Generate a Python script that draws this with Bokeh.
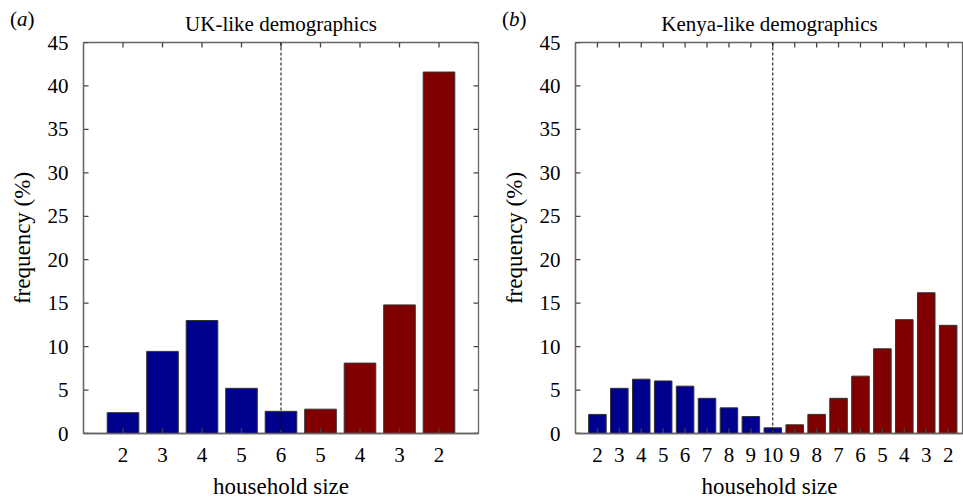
import math
from bokeh.plotting import figure
from bokeh.layouts import row
from bokeh.models import FixedTicker, Span, ColumnDataSource, Div
from bokeh.embed import file_html
from bokeh.resources import INLINE

# ---- data ----
uk_labels = ["2", "3", "4", "5", "6", "5", "4", "3", "2"]
uk_values = [2.4, 9.45, 13.0, 5.2, 2.55, 2.8, 8.1, 14.8, 41.6]
uk_n_left = 5  # bars left of the dashed divider

ke_labels = ["2", "3", "4", "5", "6", "7", "8", "9", "10", "9", "8", "7", "6", "5", "4", "3", "2"]
ke_values = [2.2, 5.2, 6.25, 6.05, 5.45, 4.05, 2.95, 1.95, 0.65,
             1.0, 2.2, 4.05, 6.6, 9.75, 13.1, 16.2, 12.45]
ke_n_left = 9

y_ticks = [0, 5, 10, 15, 20, 25, 30, 35, 40, 45]
Y_MAX = 45

BLUE = "#00008f"
RED = "#800000"
FONT = "Liberation Serif"
SPINE = "#666666"
TICK = "#444444"


def make_panel(labels, values, n_left, title, width, bl, br, x_end, right_ticks=True):
    n = len(values)
    pos = list(range(1, n + 1))
    colors = [BLUE if i < n_left else RED for i in range(n)]
    p = figure(width=width, height=501, x_range=(0, x_end), y_range=(0, Y_MAX),
               output_backend="svg", toolbar_location=None,
               min_border_left=bl, min_border_right=br,
               min_border_top=42, min_border_bottom=66)
    p.grid.visible = False
    p.outline_line_color = SPINE
    p.outline_line_width = 1.3
    p.background_fill_color = "white"
    p.border_fill_color = None

    src = ColumnDataSource(dict(x=pos, top=values, color=colors))
    p.vbar(x="x", top="top", width=0.8, source=src, fill_color="color",
           line_color="#333333", line_width=1)

    # inward tick marks on all four sides (drawn inside the frame)
    tk = dict(length=5, length_units="screen", line_color=TICK, line_width=1.3)
    p.ray(x=pos, y=[0] * n, angle=math.pi / 2, **tk)
    p.ray(x=pos, y=[Y_MAX] * n, angle=-math.pi / 2, **tk)
    p.ray(x=[0] * len(y_ticks), y=y_ticks, angle=0, **tk)
    if right_ticks:
        p.ray(x=[x_end] * len(y_ticks), y=y_ticks, angle=math.pi, **tk)

    p.add_layout(Span(location=n_left, dimension="height", line_color="black",
                      line_width=1, line_dash="3 2"))

    def style(ax):
        ax.axis_line_color = SPINE
        ax.axis_line_width = 1.3
        ax.major_tick_line_color = None
        ax.minor_tick_line_color = None
        ax.major_label_text_font = FONT
        ax.major_label_text_color = "black"
        ax.major_label_text_font_size = "21px"

    def style_label(ax, text, standoff):
        ax.axis_label = text
        ax.axis_label_text_font = FONT
        ax.axis_label_text_font_size = "23px"
        ax.axis_label_text_font_style = "normal"
        ax.axis_label_text_color = "black"
        ax.axis_label_standoff = standoff

    xa = p.xaxis[0]
    xa.ticker = FixedTicker(ticks=pos)
    xa.major_label_overrides = {i: lab for i, lab in zip(pos, labels)}
    style(xa)
    xa.major_label_standoff = 8
    style_label(xa, "household size", 9)

    ya = p.yaxis[0]
    ya.ticker = FixedTicker(ticks=y_ticks)
    style(ya)
    ya.major_label_standoff = 9
    style_label(ya, "frequency (%)", 10)

    p.title.text = title
    p.title.align = "center"
    p.title.text_font = FONT
    p.title.text_font_style = "normal"
    p.title.text_font_size = "21px"
    p.title.text_color = "black"
    p.title.standoff = 14
    return p


def letter_div(letter, left):
    html = ('<div style="position:relative; left:%dpx; top:9px; white-space:nowrap; '
            "font-family:'Liberation Serif', serif; font-size:21px; line-height:1; "
            'color:black;">(<i>%s</i>)</div>' % (left, letter))
    return Div(text=html, width=0, height=0, margin=0,
               styles={"overflow": "visible", "z-index": "10"})


pa = make_panel(uk_labels, uk_values, uk_n_left, "UK-like demographics",
                480, 83, 2, len(uk_values) + 1)
pb = make_panel(ke_labels, ke_values, ke_n_left, "Kenya-like demographics",
                483, 95, 0, 17.7, right_ticks=False)

layout = row(letter_div("a", 10), pa, letter_div("b", 22), pb)
open("out.html", "w").write(file_html(layout, INLINE))
